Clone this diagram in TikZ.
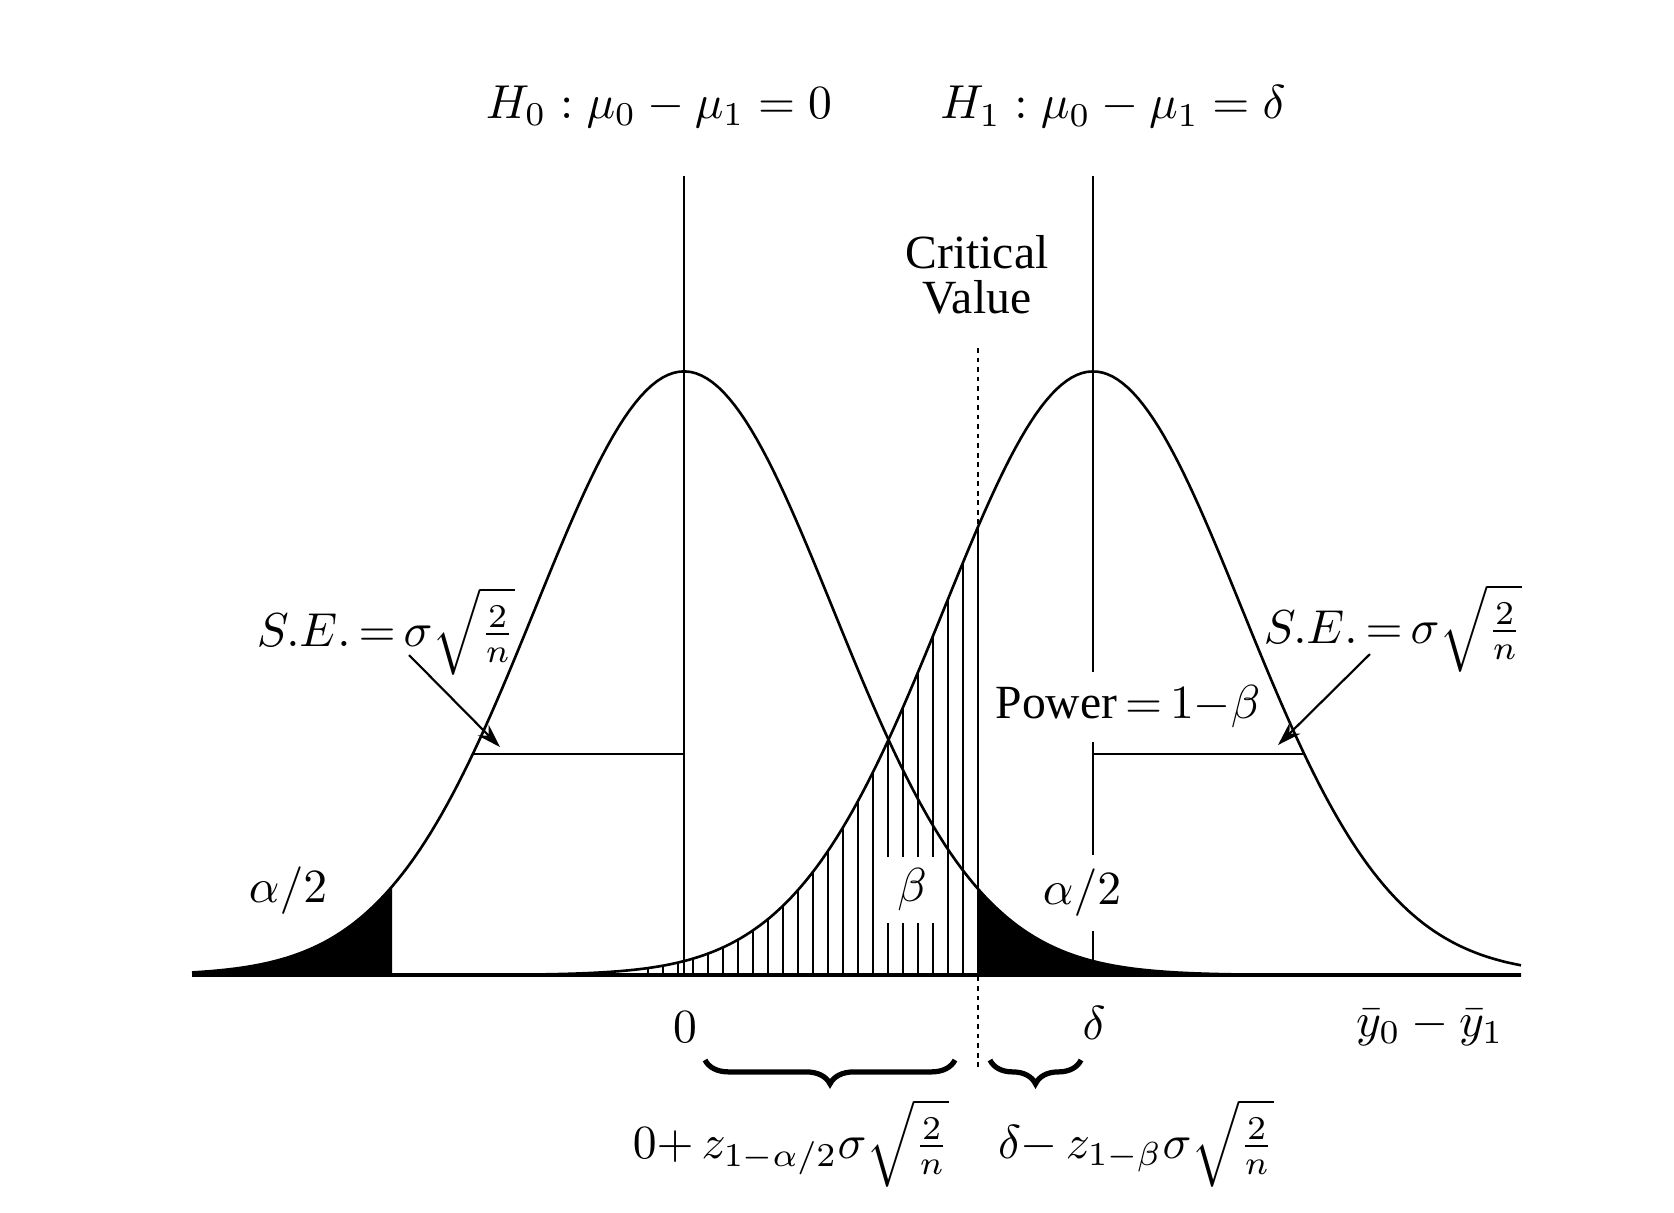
\documentclass[tikz,border=0pt]{standalone}
\usepackage{fontspec}
\newfontfamily\txtfont{Liberation Serif}
\usetikzlibrary{decorations.pathreplacing,arrows.meta}
% density curves of the two hypotheses
\pgfmathdeclarefunction{hnull}{1}{\pgfmathparse{975-603.5*exp(-((#1-684)/149)^2/2)}}
\pgfmathdeclarefunction{halt}{1}{\pgfmathparse{975-603.5*exp(-((#1-1093)/149)^2/2)}}
\begin{document}
\begin{tikzpicture}[x=0.21pt,y=0.21pt,yscale=-1,xscale=1,
  curve/.style={line width=0.55pt},
  hatch/.style={line width=0.55pt},
  lbl/.style={inner sep=0.75pt},
  gap/.style={fill=white,inner xsep=1pt,inner ysep=3pt},
  ptr/.style={line width=0.45pt,-{Stealth[length=5pt,width=3.2pt]}}]
\useasboundingbox (0,0) rectangle (1674,1212);

\coordinate (axL) at (192,975);
\coordinate (axR) at (1521,975);
\coordinate (m0top) at (684,176);
\coordinate (m0bot) at (684,975);
\coordinate (m1top) at (1093,176);
\coordinate (m1bot) at (1093,975);
\coordinate (cvtop) at (978,348);
\coordinate (cvbot) at (978,1070);

%Shape: black tails of H0
\fill (axL) -- plot[domain=192:392,samples=60] (\x,{hnull(\x)}) -- (392,975) -- cycle;
\fill (978,975) -- plot[domain=978:1521,samples=120] (\x,{hnull(\x)}) -- (axR) -- cycle;

%Shape: hatching (beta)
\foreach \k in {0,...,22}{
  \pgfmathsetmacro\hx{978-15*\k}
  \draw[hatch] (\hx,975) -- (\hx,{halt(\hx)});
}

%Shape: critical value
\draw[line width=0.45pt,dash pattern=on 1pt off 1pt] (cvtop) -- (cvbot);

%Shape: curves
\draw[curve] plot[domain=192:1521,samples=241] (\x,{hnull(\x)});
\draw[curve] plot[domain=500:1521,samples=201] (\x,{halt(\x)});

%Shape: axis and means
\draw[line width=0.9pt] (axL) -- (axR);
\draw[curve] (m0top) -- (m0bot);
\draw[curve] (m1top) -- (m1bot);

%Shape: standard errors
\coordinate (seLa) at (473,754);
\coordinate (seLb) at (684,754);
\coordinate (seRa) at (1093,754);
\coordinate (seRb) at (1304,754);
\draw[curve] (seLa) -- (seLb);
\draw[curve] (seRa) -- (seRb);

% Text Node
\node[lbl] (h0) at (659,107) {$H_0 : \mu_0 - \mu_1 = 0$};
% Text Node
\node[lbl] (h1) at (1113,107) {$H_1 : \mu_0 - \mu_1 = \delta$};
% Text Node
\node[lbl,align=center,font=\txtfont] (crit) at (977,275) {Critical\\[-2.5pt]Value};
% Text Node
\node[lbl] (seL) at (386,631) {$S.E.\,{=}\,\sigma\sqrt{\frac{2}{n}}$};
% Text Node
\node[lbl] (seR) at (1393,628) {$S.E.\,{=}\,\sigma\sqrt{\frac{2}{n}}$};
% Text Node
\node[gap] (power) at (1128,707) {{\txtfont Power}$\,{=}\,1{-}\beta$};
% Text Node
\node[lbl] (alphaL) at (288,891) {$\alpha/2$};
% Text Node
\node[fill=white,inner sep=0pt,minimum width=12.5pt,minimum height=14pt] (beta) at (912,890) {$\beta$};
% Text Node
\node[gap] (alphaR) at (1082,893) {$\alpha/2$};
% Text Node
\node[lbl] (zero) at (685,1027) {$0$};
% Text Node
\node[lbl] (delta) at (1094,1023) {$\delta$};
% Text Node
\node[lbl] (axis) at (1430,1027) {$\bar{y}_0 - \bar{y}_1$};
% Text Node
\node[lbl] (critL) at (791,1143) {$0{+}\,z_{1-\alpha/2}\sigma\sqrt{\frac{2}{n}}$};
% Text Node
\node[lbl] (critR) at (1136,1143) {$\delta{-}\,z_{1-\beta}\sigma\sqrt{\frac{2}{n}}$};

%Shape: pointers to S.E.
\coordinate (seLfrom) at (409,655);
\coordinate (seLto) at (500,747);
\coordinate (seRfrom) at (1370,654);
\coordinate (seRto) at (1278,745);
\draw[ptr] (seLfrom) -- (seLto);
\draw[ptr] (seRfrom) -- (seRto);

%Shape: braces
\coordinate (brLa) at (705,1060);
\coordinate (brLb) at (955,1060);
\coordinate (brRa) at (990,1060);
\coordinate (brRb) at (1081,1060);
\draw[line width=1.1pt,decorate,decoration={brace,mirror,amplitude=5pt}] (brLa) -- (brLb);
\draw[line width=1.1pt,decorate,decoration={brace,mirror,amplitude=5pt}] (brRa) -- (brRb);

\end{tikzpicture}
\end{document}
